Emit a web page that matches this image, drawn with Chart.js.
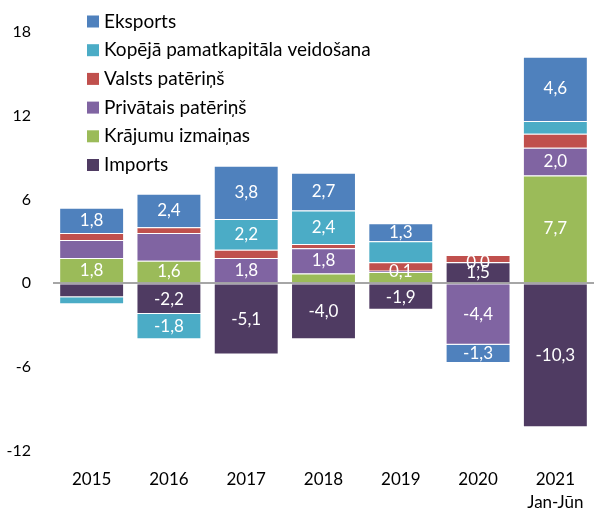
<!DOCTYPE html>
<html>
<head>
<meta charset="utf-8">
<script src="https://cdn.jsdelivr.net/npm/chart.js@4"></script>
<style>
  html, body { margin: 0; padding: 0; background: #fff; }
  #wrap { width: 595px; height: 514px; }
</style>
</head>
<body>
<div id="wrap"><canvas id="chart" width="595" height="514"></canvas></div>
<script>
// Categories and values
const years = ['2015', '2016', '2017', '2018', '2019', '2020', ['2021', 'Jan-Jūn']];
const tickValues = [-12, -6, 0, 6, 12, 18];

const imports   = [-1.0, -2.2, -5.1, -4.0, -1.9, 1.5, -10.3];
const krajumu   = [1.8, 1.6, 0.0, 0.7, 0.8, 0.02, 7.7];
const privatais = [1.3, 2.0, 1.8, 1.8, 0.1, -4.4, 2.0];
const valsts    = [0.5, 0.4, 0.6, 0.3, 0.6, 0.5, 1.0];
const kopeja    = [-0.5, -1.8, 2.2, 2.4, 1.5, 0.0, 0.9];
const eksports  = [1.8, 2.4, 3.8, 2.7, 1.3, -1.3, 4.6];

// which segments carry a value label
const importsLbl   = [0, 1, 1, 1, 1, 1, 1];
const krajumuLbl   = [1, 1, 0, 0, 0, 1, 1];
const privataisLbl = [0, 0, 1, 1, 1, 1, 1];
const valstsLbl    = [0, 0, 0, 0, 0, 0, 0];
const kopejaLbl    = [0, 1, 1, 1, 0, 0, 0];
const eksportsLbl  = [1, 1, 1, 1, 1, 1, 1];

const FONT = 'Lato';

function series(label, data, color, shown) {
    return {
        label: label,
        data: data,
        backgroundColor: color,
        borderColor: 'rgba(255,255,255,0.45)',
        borderWidth: 1,
        shown: shown,
        categoryPercentage: 1,
        barPercentage: 0.84
    };
}

// value labels in the middle of each segment
const valueLabels = {
    id: 'valueLabels',
    afterDatasetsDraw(chart) {
        const ctx = chart.ctx;
        ctx.save();
        ctx.font = '17px ' + FONT;
        ctx.fillStyle = '#ffffff';
        ctx.textAlign = 'center';
        ctx.textBaseline = 'middle';
        chart.data.datasets.forEach((ds, i) => {
            const meta = chart.getDatasetMeta(i);
            meta.data.forEach((bar, j) => {
                if (!ds.shown[j]) return;
                const txt = ds.data[j].toFixed(1).replace('.', ',');
                ctx.fillText(txt, bar.x, (bar.y + bar.base) / 2);
            });
        });
        ctx.restore();
    }
};

// legend drawn as a column in the upper left, top entry = last series
const sideLegend = {
    id: 'sideLegend',
    afterDraw(chart) {
        const ctx = chart.ctx;
        const items = chart.data.datasets.slice().reverse();
        ctx.save();
        ctx.font = '19px ' + FONT;
        ctx.textBaseline = 'middle';
        ctx.textAlign = 'left';
        items.forEach((ds, k) => {
            const cy = 21.5 + k * 28.7;
            ctx.fillStyle = ds.backgroundColor;
            ctx.fillRect(87, cy - 6, 12, 12);
            ctx.fillStyle = '#000000';
            ctx.fillText(ds.label, 104, cy);
        });
        ctx.restore();
    }
};

new Chart(document.getElementById('chart'), {
    type: 'bar',
    data: {
        labels: years,
        datasets: [
            series('Imports', imports, '#4F3B62', importsLbl),
            series('Krājumu izmaiņas', krajumu, '#9BBB59', krajumuLbl),
            series('Privātais patēriņš', privatais, '#8064A2', privataisLbl),
            series('Valsts patēriņš', valsts, '#C0504D', valstsLbl),
            series('Kopējā pamatkapitāla veidošana', kopeja, '#4BACC6', kopejaLbl),
            series('Eksports', eksports, '#4F81BD', eksportsLbl)
        ]
    },
    options: {
        responsive: false,
        animation: false,
        layout: { padding: { top: 31, right: 1, left: 0, bottom: 0 } },
        plugins: {
            legend: { display: false },
            tooltip: { enabled: false }
        },
        scales: {
            x: {
                stacked: true,
                grid: { display: false },
                border: { display: false },
                ticks: {
                    color: '#000',
                    font: { family: FONT, size: 17, lineHeight: 1.35 },
                    padding: 9,
                    maxRotation: 0
                },
                afterFit(scale) { scale.height = 63; }
            },
            y: {
                stacked: true,
                min: -12,
                max: 18,
                afterBuildTicks(scale) {
                    scale.ticks = tickValues.map(v => ({ value: v }));
                },
                grid: {
                    drawTicks: false,
                    lineWidth: 2,
                    color: c => (c.tick && c.tick.value === 0) ? '#A6A6A6' : 'rgba(0,0,0,0)'
                },
                border: { display: false },
                ticks: {
                    color: '#000',
                    font: { family: FONT, size: 16 },
                    padding: 22
                },
                afterFit(scale) { scale.width = 53; }
            }
        }
    },
    plugins: [valueLabels, sideLegend]
});
</script>
</body>
</html>
